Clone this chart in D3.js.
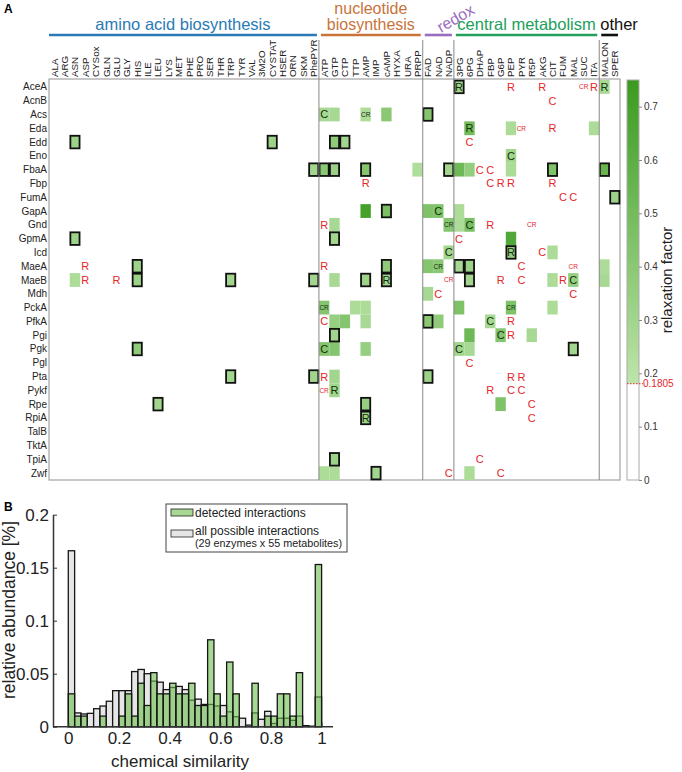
<!DOCTYPE html>
<html><head><meta charset="utf-8">
<script src="https://cdn.jsdelivr.net/npm/d3@7"></script>
<style>body{margin:0;background:#fff}svg{font-family:"Liberation Sans",Arial,sans-serif}</style>
</head><body><svg id="c" width="682" height="772"></svg>
<script>
const enzymes = ["AceA","AcnB","Acs","Eda","Edd","Eno","FbaA","Fbp","FumA","GapA","Gnd","GpmA","Icd","MaeA","MaeB","Mdh","PckA","PfkA","Pgi","Pgk","Pgl","Pta","Pykf","Rpe","RpiA","TalB","TktA","TpiA","Zwf"];
const metabolites = ["ALA","ARG","ASN","ASP","CYSox","GLN","GLU","GLY","HIS","ILE","LEU","LYS","MET","PHE","PRO","SER","THR","TRP","TYR","VAL","3M2O","CYSTAT","HSER","ORN","SKM","PhePYR","ATP","GTP","CTP","TTP","AMP","IMP","cAMP","HYXA","URA","PRPP","FAD","NAD","NADP","3PG","6PG","DHAP","FBP","G6P","PEP","PYR","R5P","AKG","CIT","FUM","MAL","SUC","ITA","MALON","SPER"];
const groupNames = ["amino acid biosynthesis","nucleotide|biosynthesis","redox","central metabolism","other"];
const groupFirst = ["ALA","ATP","FAD","3PG","MALON"];
const groupLast = ["PhePYR","PRPP","NADP","ITA","SPER"];
const groupColors = ["#2a7ab5","#c8733a","#9a6cc0","#21a05b","#111111"];
// [enzyme, metabolite, relaxation factor, boxed, label]
const cells = [
["AceA","3PG",0.3,1,"R"],["AceA","MALON",0.27,0,"R"],
["Acs","ATP",0.27,0,"C"],["Acs","GTP",0.27,0,""],["Acs","AMP",0.25,0,"CR"],["Acs","cAMP",0.4,0,""],["Acs","FAD",0.42,1,""],
["Eda","6PG",0.5,0,"R"],["Eda","PEP",0.25,0,""],["Eda","ITA",0.25,0,""],
["Edd","ASN",0.32,1,""],["Edd","CYSTAT",0.32,1,""],["Edd","GTP",0.38,1,""],["Edd","CTP",0.3,1,""],
["Eno","PEP",0.3,0,"C"],
["FbaA","PhePYR",0.3,1,""],["FbaA","ATP",0.4,1,""],["FbaA","GTP",0.33,1,""],["FbaA","AMP",0.42,1,""],["FbaA","PRPP",0.24,0,""],["FbaA","NADP",0.3,1,""],["FbaA","3PG",0.52,0,""],["FbaA","6PG",0.36,0,""],["FbaA","PEP",0.25,0,""],["FbaA","CIT",0.45,1,""],["FbaA","MALON",0.55,1,""],
["FumA","SPER",0.32,1,""],
["GapA","AMP",0.7,0,""],["GapA","cAMP",0.47,1,""],["GapA","FAD",0.45,0,""],["GapA","NAD",0.45,0,"C"],["GapA","3PG",0.25,0,""],
["Gnd","GTP",0.27,0,""],["Gnd","NADP",0.42,0,"CR"],["Gnd","3PG",0.25,0,""],["Gnd","6PG",0.47,0,"C"],
["GpmA","ASN",0.32,1,""],["GpmA","GTP",0.3,1,""],["GpmA","PEP",0.65,0,""],
["Icd","NADP",0.3,0,"C"],["Icd","PEP",0.35,1,"R"],["Icd","CIT",0.25,0,""],
["MaeA","HIS",0.32,1,""],["MaeA","cAMP",0.38,1,""],["MaeA","FAD",0.42,0,""],["MaeA","NAD",0.4,0,"CR"],["MaeA","3PG",0.27,1,""],["MaeA","6PG",0.32,1,""],["MaeA","MALON",0.25,0,""],
["MaeB","ASN",0.25,0,""],["MaeB","HIS",0.32,1,""],["MaeB","TRP",0.3,1,""],["MaeB","PhePYR",0.3,1,""],["MaeB","GTP",0.27,0,""],["MaeB","AMP",0.32,1,""],["MaeB","cAMP",0.3,1,"R"],["MaeB","6PG",0.3,1,""],["MaeB","CIT",0.25,0,""],["MaeB","MAL",0.35,0,"C"],["MaeB","MALON",0.27,0,""],
["Mdh","FAD",0.27,0,""],
["PckA","ATP",0.42,0,"CR"],["PckA","TTP",0.25,0,""],["PckA","AMP",0.25,0,""],["PckA","3PG",0.45,0,""],["PckA","PEP",0.45,0,"CR"],["PckA","CIT",0.25,0,""],
["PfkA","GTP",0.35,0,""],["PfkA","CTP",0.42,0,""],["PfkA","AMP",0.27,0,""],["PfkA","FAD",0.4,1,""],["PfkA","NAD",0.38,0,""],["PfkA","FBP",0.27,0,"C"],
["Pgi","GTP",0.3,1,""],["Pgi","6PG",0.52,0,""],["Pgi","G6P",0.42,0,"C"],["Pgi","R5P",0.27,0,""],
["Pgk","HIS",0.38,1,""],["Pgk","ATP",0.42,0,"C"],["Pgk","GTP",0.42,0,""],["Pgk","AMP",0.35,0,""],["Pgk","3PG",0.3,0,"C"],["Pgk","6PG",0.27,0,""],["Pgk","MAL",0.3,1,""],
["Pta","TRP",0.3,1,""],["Pta","PhePYR",0.3,1,""],["Pta","GTP",0.3,0,""],["Pta","FAD",0.32,1,""],
["Pykf","GTP",0.3,0,"R"],
["Rpe","LEU",0.3,1,""],["Rpe","AMP",0.35,1,""],["Rpe","G6P",0.45,0,""],
["RpiA","AMP",0.32,1,"R"],
["TpiA","GTP",0.32,1,""],
["Zwf","ATP",0.25,0,""],["Zwf","GTP",0.25,0,""],["Zwf","IMP",0.3,1,""],["Zwf","6PG",0.25,0,""]
];
// labels without a significant cell (drawn red)
const redLabels = [
["AceA","PEP","R"],["AceA","AKG","R"],["AceA","SUC","CR"],["AceA","ITA","R"],
["AcnB","CIT","C"],
["Eda","PYR","CR"],["Eda","CIT","R"],
["Edd","6PG","C"],
["FbaA","DHAP","C"],["FbaA","FBP","C"],
["Fbp","AMP","R"],["Fbp","FBP","C"],["Fbp","G6P","R"],["Fbp","PEP","R"],["Fbp","CIT","R"],
["FumA","FUM","C"],["FumA","MAL","C"],
["Gnd","ATP","R"],["Gnd","FBP","R"],["Gnd","R5P","CR"],
["GpmA","3PG","C"],
["Icd","AKG","C"],
["MaeA","ASP","R"],["MaeA","ATP","R"],["MaeA","PYR","C"],["MaeA","MAL","CR"],
["MaeB","ASP","R"],["MaeB","GLU","R"],["MaeB","NADP","CR"],["MaeB","G6P","R"],["MaeB","PYR","C"],["MaeB","FUM","R"],
["Mdh","NAD","C"],["Mdh","MAL","C"],
["PfkA","ATP","C"],["PfkA","PEP","R"],
["Pgi","PEP","R"],
["Pgl","6PG","C"],
["Pta","ATP","R"],["Pta","PEP","R"],["Pta","PYR","R"],
["Pykf","ATP","CR"],["Pykf","FBP","R"],["Pykf","PEP","C"],["Pykf","PYR","C"],
["Rpe","R5P","C"],["RpiA","R5P","C"],["TpiA","DHAP","C"],
["Zwf","NADP","C"],["Zwf","G6P","C"]
];
const threshold = 0.1805;
const cbTicks = [0,0.1,0.2,0.3,0.4,0.5,0.6,0.7];
const cbTickLabels = ["0","0.1","0.2","0.3","0.4","0.5","0.6","0.7"];

// histogram (bin width 0.025)
const binStarts = d3.range(40).map(i => i/40);
const allPossible = [0.166,0.013,0.012,0.0126,0.017,0.0195,0.024,0.034,0.034,0.034,0.052,0.054,0.050,0.043,0.042,0.035,0.037,0.038,0.035,0.025,0.026,0.021,0.021,0.0195,0.020,0.014,0.0094,0.008,0.0015,0.013,0.007,0.0145,0.003,0.008,0.008,0.006,0.010,0.001,0.0005,0.028];
const detected = [0.031,0.010,0.010,0,0,0.010,0,0,0.010,0.031,0.010,0.041,0.020,0.051,0.031,0.031,0.041,0.031,0.031,0.041,0.020,0.020,0.082,0.031,0.010,0.061,0.031,0,0,0.041,0,0.010,0.010,0.031,0.031,0.010,0.051,0,0,0.153];
const histYTicks = [0,0.05,0.1,0.15,0.2];
const histYTickLabels = ["0","0.05","0.1","0.15","0.2"];
const histXTicks = [0,0.2,0.4,0.6,0.8,1];
const histXTickLabels = ["0","0.2","0.4","0.6","0.8","1"];

const svg = d3.select("#c");
const x = d3.scaleBand().domain(metabolites).range([49,620]);
const y = d3.scaleBand().domain(enzymes).range([80,480]);
const color = d3.scaleLinear().domain([threshold,0.75]).range(["#bde5aa","#3a9a1f"]);
const bw = x.bandwidth(), bh = y.bandwidth();

svg.append("text").attr("x",4).attr("y",13).attr("font-weight","bold").attr("font-size",12).text("A");
svg.append("text").attr("x",4).attr("y",511).attr("font-weight","bold").attr("font-size",12).text("B");

// frame
svg.append("rect").attr("x",49).attr("y",79).attr("width",571).attr("height",401).attr("fill","none").attr("stroke","#aaa").attr("stroke-width",1.3);

// cells
const cg = svg.append("g");
const sorted = cells.slice().sort((a,b)=>a[3]-b[3]);
cg.selectAll("rect").data(sorted).join("rect")
  .attr("x",d=>x(d[1])+(d[3]?0.6:0)).attr("y",d=>y(d[0])+(d[3]?0.6:0))
  .attr("width",d=>bw-(d[3]?1.2:0)).attr("height",d=>bh-(d[3]?1.2:0))
  .attr("fill",d=>color(d[2]))
  .attr("stroke",d=>d[3]?"#111":"none").attr("stroke-width",1.8);

// separators
groupFirst.slice(1).forEach(m=>{
  svg.append("line").attr("x1",x(m)).attr("x2",x(m)).attr("y1",40).attr("y2",480).attr("stroke","#888").attr("stroke-width",1);
});

// labels
const lab = cells.filter(d=>d[4]).map(d=>[d[0],d[1],d[4],"#12300a"]).concat(redLabels.map(d=>[d[0],d[1],d[2],"#e4262a"]));
svg.append("g").selectAll("text").data(lab).join("text")
  .attr("x",d=>x(d[1])+bw/2).attr("y",d=>y(d[0])+bh/2)
  .attr("dy","0.36em").attr("text-anchor","middle")
  .attr("font-size",d=>d[2]==="CR"?6.5:11).attr("fill",d=>d[3]).text(d=>d[2]);

// row labels
svg.append("g").selectAll("text").data(enzymes).join("text")
  .attr("x",47).attr("y",d=>y(d)+bh/2).attr("dy","0.35em").attr("text-anchor","end")
  .attr("font-size",10).attr("fill","#222").text(d=>d);
// column labels
svg.append("g").selectAll("text").data(metabolites).join("text")
  .attr("transform",d=>`translate(${x(d)+bw/2},77) rotate(-90)`)
  .attr("dy","0.35em").attr("text-anchor","start")
  .attr("font-size",9.8).attr("fill","#222").text(d=>d);

// group titles
groupNames.forEach((g,i)=>{
  const x1 = x(groupFirst[i]) + (i===0?0:2), x2 = x(groupLast[i]) + bw - 2;
  const c = groupColors[i];
  svg.append("line").attr("x1",x1).attr("x2",x2).attr("y1",35).attr("y2",35).attr("stroke",c).attr("stroke-width",2.6);
  const cx = (x1+x2)/2;
  if (i===1) {
    const parts = g.split("|");
    svg.append("text").attr("x",cx).attr("y",14).attr("text-anchor","middle").attr("font-size",16).attr("fill",c).text(parts[0]);
    svg.append("text").attr("x",cx).attr("y",30).attr("text-anchor","middle").attr("font-size",16).attr("fill",c).text(parts[1]);
  } else if (i===2) {
    svg.append("text").attr("transform",`translate(${cx+20},23) rotate(-30)`).attr("text-anchor","middle").attr("font-size",16).attr("fill",c).text(g);
  } else if (i===4) {
    svg.append("text").attr("x",x1-1).attr("y",30).attr("text-anchor","start").attr("font-size",16.5).attr("fill",c).text(g);
  } else {
    svg.append("text").attr("x",cx).attr("y",30).attr("text-anchor","middle").attr("font-size",16.5).attr("fill",c).text(g);
  }
});

// colorbar
const cb = d3.scaleLinear().domain([0,0.75]).range([480,80]);
const defs = svg.append("defs");
const grad = defs.append("linearGradient").attr("id","cbg").attr("x1",0).attr("x2",0).attr("y1",1).attr("y2",0);
grad.append("stop").attr("offset","0%").attr("stop-color",color(threshold));
grad.append("stop").attr("offset","100%").attr("stop-color",color(0.75));
svg.append("rect").attr("x",627).attr("y",cb(0.75)).attr("width",12).attr("height",cb(threshold)-cb(0.75)).attr("fill","url(#cbg)");
svg.append("rect").attr("x",627).attr("y",cb(0.75)).attr("width",12).attr("height",cb(0)-cb(0.75)).attr("fill","none").attr("stroke","#aaa").attr("stroke-width",1);
const cbAxis = d3.axisRight(cb).tickValues(cbTicks).tickFormat((d,i)=>cbTickLabels[i]).tickSize(3).tickSizeOuter(0).tickPadding(2);
const cga = svg.append("g").attr("transform","translate(639,0)").call(cbAxis);
cga.select(".domain").remove();
cga.selectAll("text").attr("font-size",10).attr("fill","#333").attr("font-family","Liberation Sans, Arial");
cga.selectAll("line").attr("stroke","#888");
svg.append("line").attr("x1",627).attr("x2",643).attr("y1",cb(threshold)).attr("y2",cb(threshold)).attr("stroke","#e4262a").attr("stroke-dasharray","1.5,1.5").attr("stroke-width",1);
svg.append("text").attr("x",643).attr("y",cb(threshold)).attr("dy","0.35em").attr("font-size",10).attr("fill","#e4262a").text(String(threshold));
svg.append("text").attr("transform","translate(672,280) rotate(-90)").attr("text-anchor","middle").attr("font-size",15).attr("fill","#222").text("relaxation factor");

// histogram
const hx = d3.scaleLinear().domain([0,1]).range([68.3,321.6]);
const hy = d3.scaleLinear().domain([0,0.2]).range([726.7,514.7]);
const bins = binStarts.map((s,i)=>({s, a:allPossible[i], d:detected[i]}));
svg.append("g").selectAll("rect").data(bins.filter(b=>b.a>0)).join("rect")
  .attr("x",b=>hx(b.s)).attr("width",b=>hx(b.s+0.025)-hx(b.s))
  .attr("y",b=>hy(b.a)).attr("height",b=>hy(0)-hy(b.a))
  .attr("fill","#e6e6e6").attr("stroke","#151515").attr("stroke-width",1.3);
svg.append("g").selectAll("rect").data(bins.filter(b=>b.d>0)).join("rect")
  .attr("x",b=>hx(b.s)).attr("width",b=>hx(b.s+0.025)-hx(b.s))
  .attr("y",b=>hy(b.d)).attr("height",b=>hy(0)-hy(b.d))
  .attr("fill","#6cbf4f").attr("fill-opacity",0.6).attr("stroke","#151515").attr("stroke-width",1.3);

const xAx = svg.append("g").attr("transform","translate(0,726.7)")
  .call(d3.axisBottom(hx).tickValues(histXTicks).tickFormat((d,i)=>histXTickLabels[i]).tickSizeInner(-4).tickSizeOuter(0).tickPadding(5));
xAx.select(".domain").attr("d","M53,0H333").attr("stroke","#333").attr("stroke-width",1.5);
const yAx = svg.append("g").attr("transform","translate(53,0)")
  .call(d3.axisLeft(hy).tickValues(histYTicks).tickFormat((d,i)=>histYTickLabels[i]).tickSizeInner(-4).tickSizeOuter(0).tickPadding(4));
yAx.select(".domain").attr("stroke","#333").attr("stroke-width",1.5);
[xAx,yAx].forEach(a=>{a.selectAll("text").attr("font-size",17).attr("fill","#222").attr("font-family","Liberation Sans, Arial");a.selectAll("line").attr("stroke","#333");});
svg.append("text").attr("x",180).attr("y",767).attr("text-anchor","middle").attr("font-size",17).attr("fill","#222").text("chemical similarity");
svg.append("text").attr("transform","translate(15,610) rotate(-90)").attr("text-anchor","middle").attr("font-size",17.5).attr("fill","#222").text("relative abundance [%]");

// legend
const lg = svg.append("g");
lg.append("rect").attr("x",166).attr("y",504).attr("width",181).attr("height",48).attr("fill","#fff").attr("stroke","#444").attr("stroke-width",1);
lg.append("rect").attr("x",171).attr("y",509).attr("width",22).attr("height",7).attr("fill","#6cbf4f").attr("fill-opacity",0.6).attr("stroke","#222").attr("stroke-width",0.8);
lg.append("rect").attr("x",171).attr("y",530).attr("width",22).attr("height",7).attr("fill","#e6e6e6").attr("stroke","#222").attr("stroke-width",0.8);
lg.append("text").attr("x",195).attr("y",517).attr("font-size",12).attr("fill","#222").text("detected interactions");
lg.append("text").attr("x",195).attr("y",535).attr("font-size",12).attr("fill","#222").text("all possible interactions");
lg.append("text").attr("x",195).attr("y",547).attr("font-size",10.8).attr("fill","#222").text("(29 enzymes x 55 metabolites)");
</script></body></html>
